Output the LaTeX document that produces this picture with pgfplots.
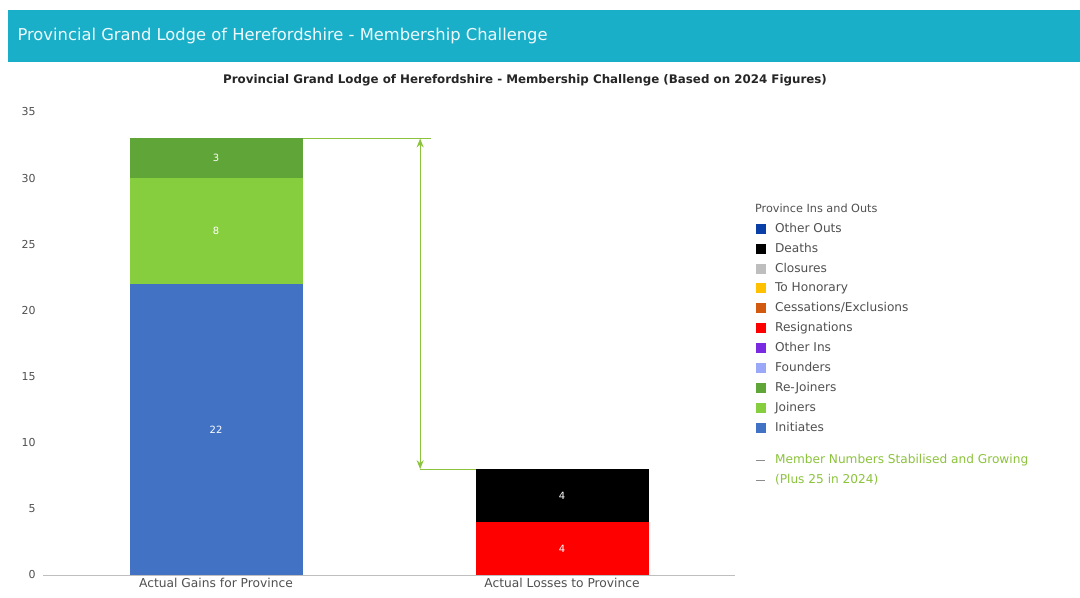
\documentclass[border=0pt]{standalone}
\usepackage{fontspec}
\setmainfont{DejaVu Sans}
\usepackage{pgfplots}
\usetikzlibrary{arrows.meta}
\pgfplotsset{compat=1.18}
\definecolor{banner}{RGB}{26,175,200}
\definecolor{cInit}{RGB}{66,114,196}
\definecolor{cJoin}{RGB}{134,206,62}
\definecolor{cRejoin}{RGB}{96,165,56}
\definecolor{cFound}{RGB}{155,168,248}
\definecolor{cOtherIns}{RGB}{122,42,224}
\definecolor{cResig}{RGB}{255,0,0}
\definecolor{cCess}{RGB}{210,90,16}
\definecolor{cHon}{RGB}{255,192,0}
\definecolor{cClos}{RGB}{190,190,190}
\definecolor{cDeath}{RGB}{0,0,0}
\definecolor{cOtherOuts}{RGB}{11,63,168}
\definecolor{cArrow}{RGB}{140,195,60}
\definecolor{txt}{RGB}{80,80,80}
\begin{document}
\begin{tikzpicture}[x=1bp,y=1bp]
\useasboundingbox (0,0) rectangle (1080,598);
\fill[white] (0,0) rectangle (1080,598);
\fill[banner] (8,536) rectangle (1080,588);
\node[anchor=west, text=white!92!banner, font=\fontsize{16.4}{18}\selectfont] at (14,562) {Provincial Grand Lodge of Herefordshire - Membership Challenge};
\node[font=\fontsize{11.9}{13}\selectfont\bfseries, text=black!85] at (525,518) {Provincial Grand Lodge of Herefordshire - Membership Challenge (Based on 2024 Figures)};
\begin{axis}[
  at={(43bp,23bp)}, anchor=south west,
  scale only axis, width=692bp, height=463bp,
  ybar stacked, bar width=0.5,
  xmin=-0.5, xmax=1.5, ymin=0, ymax=35,
  enlargelimits=false,
  xtick={0,1}, xticklabels={Actual Gains for Province, Actual Losses to Province},
  ytick={0,5,...,35},
  axis x line*=bottom, axis y line*=left,
  y axis line style={draw=none},
  x axis line style={draw=black!25},
  major tick length=0pt,
  /pgf/number format/assume math mode=true,
  yticklabel style={font=\fontsize{11}{13}\selectfont, text=txt, xshift=-4bp},
  xticklabel style={font=\fontsize{12.3}{14}\selectfont, text=txt},
  reverse legend,
  legend cell align=left,
  legend style={at={(1.025,0.81)}, anchor=north west, draw=none, fill=none,
    font=\fontsize{12.2}{14}\selectfont, text=txt, row sep=5.2bp},
  legend image code/.code={\fill[#1] (0bp,-5bp) rectangle (10bp,5bp); \path (17bp,0bp);},
]
\addlegendimage{legend image code/.code={\draw[black!45,line width=0.8bp] (0bp,0bp)--(9bp,0bp); \path (17bp,0bp);}}
\addlegendentry{\textcolor{cArrow}{(Plus 25 in 2024)}}
\addlegendimage{legend image code/.code={\draw[black!45,line width=0.8bp] (0bp,0bp)--(9bp,0bp); \path (17bp,0bp);}}
\addlegendentry{\textcolor{cArrow}{Member Numbers Stabilised and Growing}}
\addlegendimage{empty legend}
\addlegendentry{\rule{0pt}{2bp}}
\addplot[fill=cInit, draw=none] coordinates {(0,22) (1,0)};
\addlegendentry{Initiates}
\addplot[fill=cJoin, draw=none] coordinates {(0,8) (1,0)};
\addlegendentry{Joiners}
\addplot[fill=cRejoin, draw=none] coordinates {(0,3) (1,0)};
\addlegendentry{Re-Joiners}
\addplot[fill=cFound, draw=none] coordinates {(0,0) (1,0)};
\addlegendentry{Founders}
\addplot[fill=cOtherIns, draw=none] coordinates {(0,0) (1,0)};
\addlegendentry{Other Ins}
\addplot[fill=cResig, draw=none] coordinates {(0,0) (1,4)};
\addlegendentry{Resignations}
\addplot[fill=cCess, draw=none] coordinates {(0,0) (1,0)};
\addlegendentry{Cessations/Exclusions}
\addplot[fill=cHon, draw=none] coordinates {(0,0) (1,0)};
\addlegendentry{To Honorary}
\addplot[fill=cClos, draw=none] coordinates {(0,0) (1,0)};
\addlegendentry{Closures}
\addplot[fill=cDeath, draw=none] coordinates {(0,0) (1,4)};
\addlegendentry{Deaths}
\addplot[fill=cOtherOuts, draw=none] coordinates {(0,0) (1,0)};
\addlegendentry{Other Outs}
\addlegendimage{empty legend}
\addlegendentry{\hspace{-20bp}\fontsize{11.3}{13}\selectfont Province Ins and Outs\rule[-13.5bp]{0pt}{13.5bp}}
\end{axis}
\begin{axis}[
  at={(43bp,23bp)}, anchor=south west,
  scale only axis, width=692bp, height=463bp,
  xmin=-0.5, xmax=1.5, ymin=0, ymax=35,
  enlargelimits=false, hide axis, clip=false,
]
\addplot[cArrow, line width=1.3bp, no marks] coordinates {(0.25,33) (0.62,33)};
\addplot[cArrow, line width=1.3bp, no marks] coordinates {(0.59,8) (0.75,8)};
\addplot[cArrow, line width=1.3bp, no marks, {Stealth[length=9bp,width=7bp]}-{Stealth[length=9bp,width=7bp]}] coordinates {(0.59,33) (0.59,8)};
\addplot[only marks, mark=none, point meta=explicit symbolic, nodes near coords,
  every node near coord/.append style={anchor=center, text=white, font=\fontsize{10}{12}\selectfont}]
  coordinates {(0,11) [22] (0,26) [8] (0,31.5) [3] (1,2) [4] (1,6) [4]};
\end{axis}
\end{tikzpicture}
\end{document}
